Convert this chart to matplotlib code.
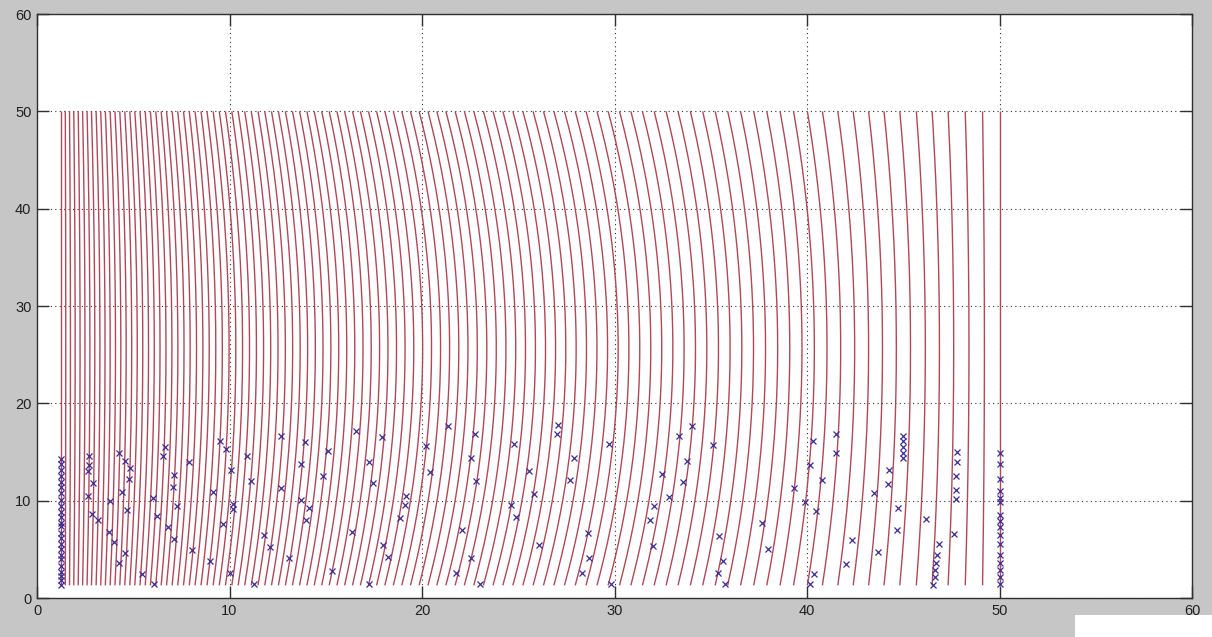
import numpy as np
import matplotlib
matplotlib.use("Agg")
import matplotlib.pyplot as plt
from matplotlib.patches import Rectangle

# ---- data ----
# x positions (at the bottom / top ends) of the red curves
curve_x = [1.25, 1.47, 1.69, 1.91, 2.14, 2.37, 2.60, 2.83, 3.07, 3.31, 3.55, 3.80,
           4.05, 4.30, 4.56, 4.82, 5.08, 5.35, 5.62, 5.89, 6.17, 6.45, 6.73, 7.02,
           7.31, 7.61, 7.91, 8.21, 8.52, 8.83, 9.15, 9.47, 9.79, 10.12, 10.45, 10.79,
           11.13, 11.48, 11.83, 12.18, 12.54, 12.90, 13.27, 13.64, 14.02, 14.40, 14.79,
           15.18, 15.58, 15.98, 16.39, 16.80, 17.22, 17.64, 18.07, 18.51, 18.95, 19.40,
           19.85, 20.31, 20.77, 21.24, 21.72, 22.20, 22.69, 23.19, 23.69, 24.20, 24.72,
           25.24, 25.77, 26.31, 26.85, 27.40, 27.96, 28.52, 29.09, 29.67, 30.26, 30.85,
           31.45, 32.06, 32.68, 33.30, 33.94, 34.58, 35.23, 35.88, 36.55, 37.23, 37.91,
           38.60, 39.30, 40.02, 40.80, 41.60, 42.40, 43.20, 44.00, 44.82, 45.68, 46.50,
           47.33, 48.22, 49.12, 50.00]
curve_y_bottom = 1.3
curve_y_top = 50.0
max_bulge = 1.7          # largest sideways bow of a curve (middle of the fan)

marker_x = (
    [1.25] * 24
    + [2.71, 2.71, 2.66, 2.92, 2.66, 2.87, 3.15, 4.26, 4.58, 4.84, 4.79, 4.39, 3.79, 4.69,
       3.74, 4.00, 4.58, 4.24, 5.43, 6.06, 6.64, 6.56, 7.14, 7.07, 7.28, 6.00, 6.21, 6.81,
       7.13, 7.90, 8.03]
    + [16.59, 12.70, 9.53, 9.84, 13.91, 15.12, 10.93, 13.74, 10.10, 14.86, 11.14, 9.15,
       12.70, 10.19, 10.19, 13.74, 14.13, 13.96, 9.64, 11.80, 12.09, 16.38, 13.09, 9.01,
       10.02, 15.34, 11.28]
    + [21.34, 17.94, 22.73, 24.77, 20.19, 22.56, 17.25, 20.43, 22.78, 17.45, 19.18, 19.10,
       24.63, 24.86, 18.84, 22.09, 17.97, 18.23, 22.56, 21.78, 17.25, 22.99]
    + [27.05, 27.00, 29.74, 33.37, 27.92, 25.58, 27.69, 32.47, 33.58, 25.84, 32.81, 32.07,
       31.85, 28.61, 31.98, 26.10, 28.66, 28.32, 29.82]
    + [34.03, 35.13, 33.75, 40.29, 41.53, 41.53, 40.15, 40.77, 39.34, 39.91, 40.49, 37.66,
       35.41, 37.95, 35.62, 35.36, 35.76, 40.37, 40.15]
    + [42.36, 42.05, 43.71, 43.49, 44.27, 44.23, 44.75, 44.66]
    + [45.00] * 5 + [46.20]
    + [46.86, 46.77, 46.72, 46.64, 46.64, 46.54]
    + [47.81, 47.81, 47.76, 47.76, 47.76, 47.64]
    + [50.00] * 16
)
marker_y = (
    [14.3, 13.8, 13.1, 12.5, 11.9, 11.4, 10.8, 10.1, 9.5, 8.8, 8.3, 7.7, 7.4, 6.7, 6.2,
     5.5, 5.0, 4.4, 4.0, 3.3, 2.7, 2.3, 1.8, 1.3]
    + [14.6, 13.7, 13.0, 11.8, 10.5, 8.6, 8.0, 14.9, 14.1, 13.4, 12.2, 10.9, 10.0, 9.0,
       6.8, 5.8, 4.6, 3.6, 2.5, 1.4, 15.5, 14.6, 12.6, 11.4, 9.5, 10.3, 8.4, 7.3,
       6.1, 14.0, 4.9]
    + [17.2, 16.6, 16.1, 15.3, 16.0, 15.1, 14.6, 13.8, 13.1, 12.5, 12.0, 10.9,
       11.3, 9.7, 9.1, 10.1, 9.2, 8.0, 7.6, 6.5, 5.2, 6.8, 4.1, 3.8,
       2.6, 2.8, 1.4]
    + [17.7, 16.5, 16.9, 15.8, 15.6, 14.4, 14.0, 12.9, 12.0, 11.8, 10.5, 9.6,
       9.6, 8.3, 8.2, 7.0, 5.4, 4.2, 4.1, 2.6, 1.4, 1.4]
    + [17.8, 16.9, 15.8, 16.6, 14.4, 13.0, 12.1, 12.7, 11.9, 10.7, 10.4, 9.5,
       8.0, 6.7, 5.3, 5.4, 4.1, 2.6, 1.4]
    + [17.7, 15.7, 14.1, 16.1, 16.9, 14.9, 13.7, 12.1, 11.3, 9.9, 8.9, 7.7,
       6.4, 5.0, 3.8, 2.6, 1.4, 2.5, 1.4]
    + [6.0, 3.5, 4.7, 10.8, 13.2, 11.7, 9.2, 7.0]
    + [16.6, 16.1, 15.5, 14.9, 14.4] + [8.1]
    + [5.5, 4.4, 3.6, 2.9, 2.2, 1.3]
    + [15.0, 14.0, 12.5, 11.1, 10.2, 6.6]
    + [14.9, 13.8, 12.2, 11.0, 10.3, 9.9, 8.5, 7.9, 7.3, 6.5, 5.5, 4.4, 3.6, 2.9, 2.2, 1.4]
)

x_ticks = [0, 10, 20, 30, 40, 50, 60]
y_ticks = [0, 10, 20, 30, 40, 50, 60]

# ---- figure ----
W, H = 1212, 637
fig = plt.figure(figsize=(W / 100, H / 100), dpi=100, facecolor="#c6c6c6")
ax = fig.add_axes([37 / W, 1 - 598 / H, (1192 - 37) / W, (598 - 14) / H])
ax.set_facecolor("white")

u0, u1 = curve_x[0], curve_x[-1]
ys = np.linspace(curve_y_bottom, curve_y_top, 200)
yc = 0.5 * (curve_y_bottom + curve_y_top)
hh = 0.5 * (curve_y_top - curve_y_bottom)
shape = 1 - ((ys - yc) / hh) ** 2
for u in curve_x:
    amp = max_bulge * np.sin(np.pi * (u - u0) / (u1 - u0))
    ax.plot(u + amp * shape, ys, color="#b04858", lw=1.0, solid_capstyle="butt")

ax.plot(marker_x, marker_y, linestyle="none", marker="x", color="#3c2c96",
        markersize=4.2, markeredgewidth=0.9)

ax.set_xlim(0, 60)
ax.set_ylim(0, 60)
ax.set_xticks(x_ticks)
ax.set_yticks(y_ticks)
ax.set_xticklabels([str(t) for t in x_ticks])
ax.set_yticklabels([str(t) for t in y_ticks])
ax.grid(True, color="#303030", linestyle=(0, (1, 3)), linewidth=0.8)
ax.tick_params(direction="in", length=8.3, width=1.0, color="#303030",
               top=True, right=True, labelsize=10.5, labelcolor="#202020", pad=4)
for lbl in ax.get_xticklabels() + ax.get_yticklabels():
    lbl.set_family(["Liberation Sans", "DejaVu Sans"])
for s in ax.spines.values():
    s.set_color("#303030")
    s.set_linewidth(1.0)

fig.patches.append(Rectangle((1075 / W, 0), (W - 1075) / W, 22 / H,
                             transform=fig.transFigure, facecolor="white",
                             edgecolor="none", zorder=10))

fig.savefig("out.png", dpi=100, facecolor=fig.get_facecolor())
